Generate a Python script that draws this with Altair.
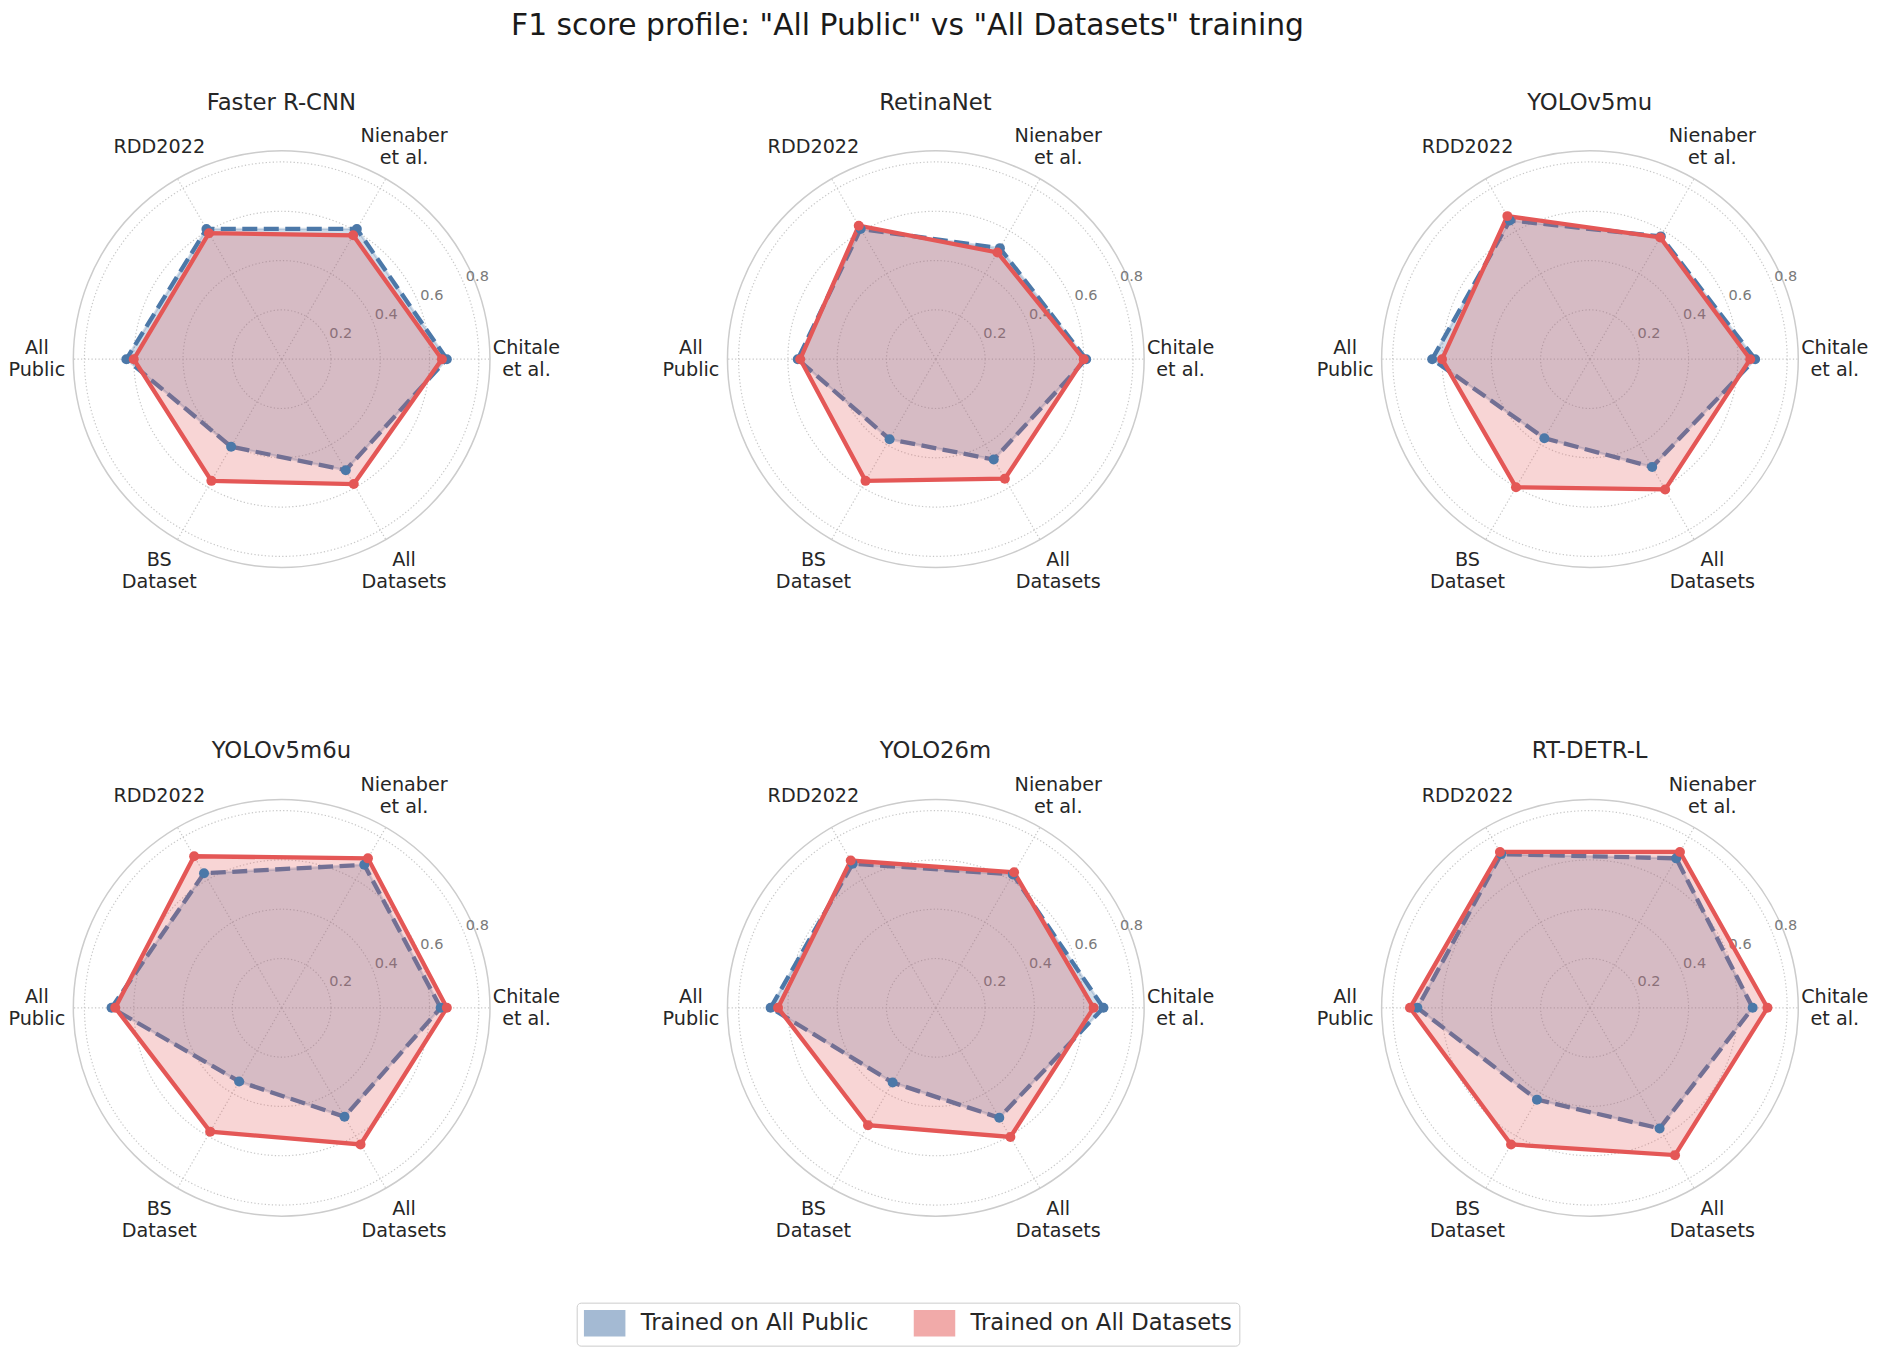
import altair as alt
import pandas as pd

# ---------------- data ----------------
TITLE = 'F1 score profile: "All Public" vs "All Datasets" training'
MODELS = ["Faster R-CNN", "RetinaNet", "YOLOv5mu", "YOLOv5m6u", "YOLO26m", "RT-DETR-L"]
CATEGORIES = ["Chitale\net al.", "Nienaber\net al.", "RDD2022", "All\nPublic", "BS\nDataset", "All\nDatasets"]
SERIES = ["Trained on All Public", "Trained on All Datasets"]
RING_TICKS = [0.2, 0.4, 0.6, 0.8]
R_MAX = 0.845

# F1 per category (order of CATEGORIES), trained on "All Public"
PUB_FASTER_RCNN = [0.67, 0.61, 0.61, 0.63, 0.41, 0.52]
PUB_RETINANET = [0.61, 0.52, 0.61, 0.56, 0.375, 0.47]
PUB_YOLOV5MU = [0.67, 0.575, 0.65, 0.64, 0.37, 0.505]
PUB_YOLOV5M6U = [0.645, 0.67, 0.63, 0.69, 0.345, 0.51]
PUB_YOLO26M = [0.68, 0.625, 0.675, 0.67, 0.35, 0.515]
PUB_RTDETR = [0.66, 0.70, 0.72, 0.70, 0.43, 0.565]

# F1 per category, trained on "All Datasets"
ALL_FASTER_RCNN = [0.65, 0.58, 0.59, 0.60, 0.57, 0.585]
ALL_RETINANET = [0.60, 0.50, 0.625, 0.55, 0.57, 0.56]
ALL_YOLOV5MU = [0.65, 0.57, 0.67, 0.60, 0.60, 0.61]
ALL_YOLOV5M6U = [0.67, 0.70, 0.71, 0.675, 0.58, 0.64]
ALL_YOLO26M = [0.64, 0.635, 0.69, 0.64, 0.55, 0.605]
ALL_RTDETR = [0.72, 0.73, 0.73, 0.73, 0.64, 0.69]

PUBLIC = [PUB_FASTER_RCNN, PUB_RETINANET, PUB_YOLOV5MU, PUB_YOLOV5M6U, PUB_YOLO26M, PUB_RTDETR]
ALLDS = [ALL_FASTER_RCNN, ALL_RETINANET, ALL_YOLOV5MU, ALL_YOLOV5M6U, ALL_YOLO26M, ALL_RTDETR]

rows = []
for m, pub, alld in zip(MODELS, PUBLIC, ALLDS):
    for i in range(len(CATEGORIES)):
        rows.append({"model": m, "idx": i, "series": SERIES[0], "value": pub[i]})
        rows.append({"model": m, "idx": i, "series": SERIES[1], "value": alld[i]})
df = pd.DataFrame(rows)
cat_df = pd.DataFrame({"idx": list(range(len(CATEGORIES))), "label": CATEGORIES})
ring_df = pd.DataFrame({"r": RING_TICKS})
outer_df = pd.DataFrame({"r": [R_MAX]})
series_df = pd.DataFrame({"series": SERIES})

# ---------------- style / layout ----------------
FONT = "DejaVu Sans"
TXT = "#262626"
BLUE = "#4C78A8"
RED = "#E45756"
GRID = "#c8c8c8"
W, H = 555, 484
XMIN, XMAX = -1.11, 1.14
P = W / (XMAX - XMIN)          # pixels per unit
YM = H / 2 / P
LABEL_R = 0.993
LINE_H = 22
RECT = "M-1.6,-1H1.6V1H-1.6Z"

XS = alt.Scale(domain=[XMIN, XMAX], nice=False, zero=False)
YS = alt.Scale(domain=[-YM, YM], nice=False, zero=False)
COLOR_SCALE = alt.Scale(domain=SERIES, range=[BLUE, RED])

ANG = "datum.idx * PI / 3"


def xq(field):
    return alt.X(field, type="quantitative", scale=XS, axis=None)


def yq(field):
    return alt.Y(field, type="quantitative", scale=YS, axis=None)


LEG = alt.Legend(
    title=None, orient="none", legendX=569, legendY=1186, direction="horizontal",
    symbolType=RECT, symbolSize=625, symbolOffset=7.5, symbolStrokeWidth=1.5, symbolOpacity=0.5,
    labelFontSize=22.7, labelFont=FONT, labelColor=TXT, labelOffset=22.5, labelLimit=500,
    columnPadding=43, padding=7, strokeColor="#cccccc", cornerRadius=4, fillColor="white",
)


def ring_layer(data, **style):
    # circle symbol: diameter = sqrt(size) -> size = (2 r P)^2
    return alt.Chart(data).transform_calculate(
        cx="0", cy="0", s=f"pow(2 * datum.r * {P}, 2)"
    ).mark_point(shape="circle", filled=False, opacity=1, **style).encode(
        x=xq("cx"), y=yq("cy"), size=alt.Size("s:Q", scale=None, legend=None)
    )


def label_layer(multiline):
    test = "indexof(datum.label, '\\n') >= 0"
    return alt.Chart(cat_df).transform_filter(
        test if multiline else f"!({test})"
    ).transform_calculate(
        lx=f"{LABEL_R} * cos({ANG})", ly=f"{LABEL_R} * sin({ANG})"
    ).mark_text(
        align="center", baseline="middle", fontSize=19.2, font=FONT, color=TXT,
        lineBreak="\n", lineHeight=LINE_H, dy=-LINE_H / 2 if multiline else 0,
    ).encode(x=xq("lx"), y=yq("ly"), text="label:N")


def panel(model, with_legend):
    spokes = alt.Chart(cat_df).transform_calculate(
        cx="0", cy="0", ex=f"{R_MAX} * cos({ANG})", ey=f"{R_MAX} * sin({ANG})"
    ).mark_rule(color=GRID, strokeWidth=1.2, strokeDash=[1.3, 2.2]).encode(
        x=xq("cx"), y=yq("cy"), x2=alt.X2("ex:Q"), y2=alt.Y2("ey:Q")
    )
    rings = ring_layer(ring_df, stroke=GRID, strokeWidth=1.2, strokeDash=[1.3, 2.2])
    outer = ring_layer(outer_df, stroke="#cccccc", strokeWidth=1.5)
    ticks = alt.Chart(ring_df).transform_calculate(
        tx="datum.r * cos(PI / 8)", ty="datum.r * sin(PI / 8)"
    ).mark_text(
        align="left", baseline="alphabetic", dx=2, dy=-2.5, fontSize=14.5, font=FONT, color="#7a7a7a"
    ).encode(x=xq("tx"), y=yq("ty"), text=alt.Text("r:Q", format=".1f"))

    base = alt.Chart(df).transform_filter(alt.datum.model == model).transform_calculate(
        px=f"datum.value * cos({ANG})", py=f"datum.value * sin({ANG})"
    )
    pub = base.transform_filter(alt.datum.series == SERIES[0])
    alld = base.transform_filter(alt.datum.series == SERIES[1])
    enc = dict(x=xq("px"), y=yq("py"), order=alt.Order("idx:Q"))

    pub_fill = pub.mark_line(interpolate="linear-closed", fill=BLUE, fillOpacity=0.25,
                             stroke=BLUE, strokeOpacity=0.25, strokeWidth=2.5).encode(**enc)
    pub_line = pub.mark_line(interpolate="linear-closed", stroke=BLUE, strokeWidth=4.3,
                             strokeDash=[15, 6.5]).encode(**enc)
    all_fill = alld.mark_line(interpolate="linear-closed", fill=RED, fillOpacity=0.25,
                              stroke=RED, strokeOpacity=0.25, strokeWidth=2).encode(**enc)
    all_line = alld.mark_line(interpolate="linear-closed", stroke=RED, strokeWidth=4.3).encode(**enc)
    pub_pts = pub.mark_circle(size=100, color=BLUE, opacity=1).encode(x=xq("px"), y=yq("py"))
    all_pts = alld.mark_circle(size=100, color=RED, opacity=1).encode(x=xq("px"), y=yq("py"))

    layers = [spokes, rings, outer, ticks, pub_fill, pub_line, all_fill, all_line,
              pub_pts, all_pts, label_layer(True), label_layer(False)]
    if with_legend:
        legend_layer = alt.Chart(series_df).transform_filter("false").mark_point(
            shape=RECT, filled=True, size=625, strokeWidth=1.5
        ).encode(
            fill=alt.Fill("series:N", scale=COLOR_SCALE, legend=LEG),
            stroke=alt.Stroke("series:N", scale=COLOR_SCALE, legend=LEG),
        )
        layers.append(legend_layer)

    return alt.layer(*layers).properties(
        width=W, height=H,
        title=alt.TitleParams(model, fontSize=22.8, font=FONT, fontWeight="normal", color=TXT,
                              baseline="middle", offset=-8, dx=-4, anchor="middle"),
    )


panels = [panel(m, i == 0) for i, m in enumerate(MODELS)]

chart = alt.concat(
    *panels, columns=3, spacing=alt.RowColnumber(row=165, column=99.5), bounds="flush"
).properties(
    title=alt.TitleParams(TITLE, fontSize=29.8, font=FONT, fontWeight="normal", color="#1a1a1a",
                          baseline="middle", offset=36, dx=-32, anchor="middle"),
    padding={"left": 0, "top": 2, "right": 0, "bottom": 0},
    background="white",
).configure_view(stroke=None)

chart.save("out.html", embed_options={"renderer": "svg", "actions": False})
